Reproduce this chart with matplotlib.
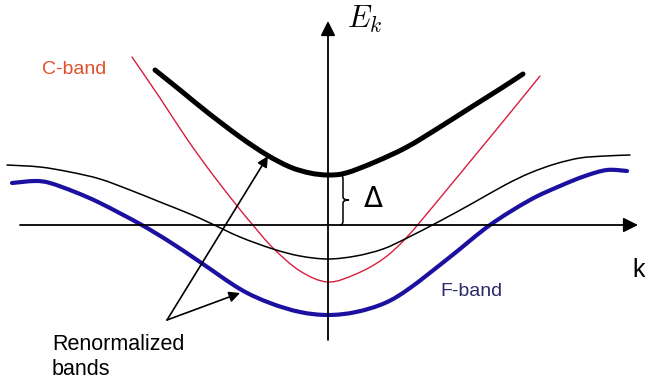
import numpy as np
import matplotlib
matplotlib.use("Agg")
import matplotlib.pyplot as plt
from matplotlib.path import Path
from matplotlib.patches import PathPatch

plt.rcParams['font.family'] = ['Liberation Sans', 'DejaVu Sans']
plt.rcParams['mathtext.fontset'] = 'cm'

# bare conduction band (C-band)
k_c = [-1.96, -1.68, -1.41, -1.15, -0.90, -0.76, -0.55, -0.28, 0.00,
       0.28, 0.55, 0.79, 1.12, 1.45, 1.82, 2.12]
E_c = [1.68, 1.27, 0.86, 0.50, 0.18, 0.01, -0.23, -0.46, -0.57,
       -0.49, -0.34, -0.12, 0.27, 0.67, 1.12, 1.49]

# bare f-band (F-band)
k_f = [-3.16, -2.93, -2.78, -2.53, -2.28, -1.88, -1.58, -1.28, -0.88, -0.58,
       -0.28, 0.00, 0.28, 0.57, 0.82, 1.22, 1.62, 2.02, 2.32, 2.57, 2.79, 2.99]
E_f = [0.42, 0.44, 0.42, 0.33, 0.22, 0.01, -0.17, -0.37, -0.64, -0.78,
       -0.87, -0.90, -0.87, -0.78, -0.63, -0.32, 0.00, 0.25, 0.39, 0.49, 0.55, 0.54]

# renormalized upper band
k_up = [-1.73, -1.48, -1.21, -0.88, -0.61, -0.38, -0.18, 0.00,
        0.18, 0.47, 0.79, 1.12, 1.45, 1.72, 1.95]
E_up = [1.55, 1.35, 1.13, 0.88, 0.70, 0.58, 0.52, 0.50,
        0.52, 0.63, 0.78, 0.98, 1.19, 1.36, 1.51]

# renormalized lower band
k_lo = [-3.21, -2.88, -2.58, -2.28, -1.98, -1.68, -1.38, -1.18, -0.88, -0.55,
        -0.28, 0.00, 0.28, 0.55, 0.79, 1.12, 1.45, 1.77, 2.02, 2.27, 2.52, 2.77, 3.02]
E_lo = [0.60, 0.58, 0.53, 0.46, 0.35, 0.23, 0.11, 0.02, -0.12, -0.24,
        -0.31, -0.34, -0.31, -0.24, -0.13, 0.04, 0.22, 0.40, 0.52, 0.61, 0.67, 0.69, 0.70]


def smooth_path(xs, ys):
    # Catmull-Rom through the points, written as cubic Bezier segments
    p = np.column_stack([xs, ys]).astype(float)
    p = np.vstack([p[0], p, p[-1]])
    verts = [p[1]]
    codes = [Path.MOVETO]
    for i in range(1, len(p) - 2):
        c1 = p[i] + (p[i + 1] - p[i - 1]) / 6
        c2 = p[i + 1] - (p[i + 2] - p[i]) / 6
        verts += [c1, c2, p[i + 1]]
        codes += [Path.CURVE4] * 3
    return Path(verts, codes)


def band(ax, xs, ys, **kw):
    ax.add_patch(PathPatch(smooth_path(xs, ys), fill=False, capstyle='round', **kw))


fig = plt.figure(figsize=(6.45, 3.9), dpi=100)
ax = fig.add_axes([0, 0, 1, 1])
ax.set_xlim(-3.28, 3.17)
ax.set_ylim(-1.65, 2.25)
ax.axis('off')

# axes with arrow heads
axkw = dict(arrowstyle='-|>', lw=1.3, color='black', mutation_scale=22, shrinkA=0, shrinkB=0)
ax.annotate('', xy=(3.10, 0), xytext=(-3.08, 0), arrowprops=axkw)
ax.annotate('', xy=(0, 2.04), xytext=(0, -1.15), arrowprops=axkw)

band(ax, k_c, E_c, edgecolor='#d81e3c', lw=1.0)
band(ax, k_lo, E_lo, edgecolor='black', lw=1.1)
band(ax, k_f, E_f, edgecolor='#1c10a0', lw=3.0)
band(ax, k_up, E_up, edgecolor='black', lw=3.6)

# brace marking the hybridization gap
top = min(E_up)
mid = top / 2
x0, x1, x2 = 0.12, 0.15, 0.21
verts = [(x0, top), (x1, top), (x1, top - 0.04), (x1, mid + 0.03),
         (x1, mid), (x2, mid), (x1, mid), (x1, mid - 0.03), (x1, 0.04),
         (x1, 0.0), (x0, 0.0)]
codes = [Path.MOVETO, Path.CURVE3, Path.CURVE3, Path.LINETO,
         Path.CURVE3, Path.CURVE3, Path.CURVE3, Path.CURVE3, Path.LINETO,
         Path.CURVE3, Path.CURVE3]
ax.add_patch(PathPatch(Path(verts, codes), fill=False, lw=1.1, edgecolor='black'))
ax.text(0.35, mid, r'$\Delta$', fontsize=20, ha='left', va='center',
        math_fontfamily='dejavusans')

# labels
ax.text(0.19, 2.21, r'$E_k$', fontsize=22, ha='left', va='top')
ax.text(3.04, -0.45, 'k', fontsize=18, ha='left', va='center')
ax.text(-2.86, 1.55, 'C-band', fontsize=14, color='#e0502a', ha='left', va='center')
ax.text(1.12, -0.67, 'F-band', fontsize=14, color='#2b2b6b', ha='left', va='center')
ax.text(-2.76, -1.32, 'Renormalized\nbands', fontsize=15.5, ha='left', va='center',
        linespacing=1.25)

# pointers to the renormalized bands
pkw = dict(arrowstyle='-|>', lw=1.2, color='black', mutation_scale=16, shrinkA=0, shrinkB=0)
ax.annotate('', xy=(-0.60, 0.69), xytext=(-1.61, -0.95), arrowprops=pkw)
ax.annotate('', xy=(-0.88, -0.68), xytext=(-1.61, -0.95), arrowprops=pkw)

fig.savefig('out.png', dpi=100)
